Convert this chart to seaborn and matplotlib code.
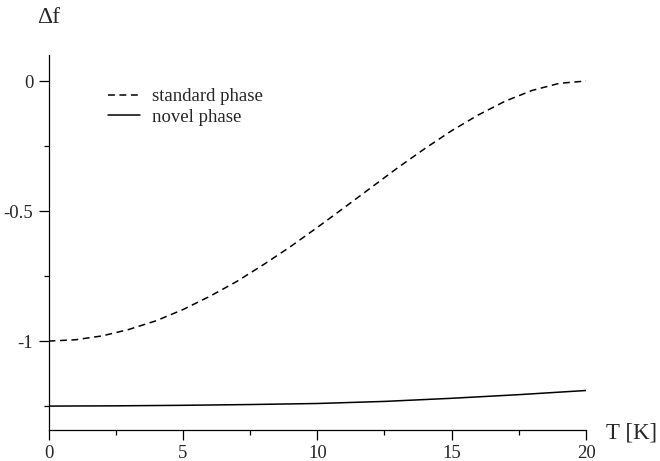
import matplotlib
matplotlib.use("Agg")
import matplotlib.pyplot as plt
import numpy as np
import pandas as pd
import seaborn as sns
from matplotlib.ticker import MultipleLocator

# ---------------------------------------------------------
# Data
# ---------------------------------------------------------
T_standard = [0, 1, 2, 3, 4, 5, 6, 7, 8, 9, 10, 11, 12, 13, 14, 15, 16, 17, 18, 19, 20]
df_standard = [-1.000, -0.995, -0.980, -0.955, -0.922, -0.879, -0.828, -0.771,
               -0.706, -0.637, -0.563, -0.487, -0.410, -0.333, -0.260, -0.191,
               -0.130, -0.077, -0.036, -0.009, 0.000]

T_novel = [0, 2.5, 5, 7.5, 10, 12.5, 15, 17.5, 20]
df_novel = [-1.250, -1.249, -1.247, -1.244, -1.240, -1.232, -1.220, -1.206, -1.190]

labels = ["standard phase", "novel phase"]
x_ticks = [0, 5, 10, 15, 20]
y_ticks = [0, -0.5, -1]
y_ticklabels = ["0", "-0.5", "-1"]

data = pd.concat([
    pd.DataFrame({"T": T_standard, "df": df_standard, "phase": labels[0]}),
    pd.DataFrame({"T": T_novel, "df": df_novel, "phase": labels[1]}),
])

# ---------------------------------------------------------
# Style
# ---------------------------------------------------------
sns.set_style("ticks")
plt.rcParams["font.family"] = ["Liberation Serif", "DejaVu Serif"]

fig = plt.figure(figsize=(6.6, 4.61), dpi=100)
ax = fig.add_axes([0.0735, 0.0672, 0.8145, 0.8135])

ax = sns.lineplot(
    data=data, x="T", y="df", hue="phase", style="phase",
    palette={labels[0]: "black", labels[1]: "black"},
    dashes={labels[0]: (4.5, 3), labels[1]: ""},
    linewidth=1.1, ax=ax, sort=False,
)

ax.set_xlim(0, 20)
ax.set_ylim(-1.342, 0.1)
ax.set_xlabel("")
ax.set_ylabel("")

ax.set_xticks(x_ticks)
ax.set_xticklabels([str(t) for t in x_ticks])
ax.xaxis.set_minor_locator(MultipleLocator(2.5))
ax.set_yticks(y_ticks)
ax.set_yticklabels(y_ticklabels)
ax.yaxis.set_minor_locator(MultipleLocator(0.25))

ax.tick_params(which="major", direction="out", length=7, width=0.9,
               labelsize=13.5, color="black", pad=4)
ax.tick_params(which="minor", direction="out", length=3.5, width=0.9, color="black")

for side in ["top", "right"]:
    ax.spines[side].set_visible(False)
for side in ["left", "bottom"]:
    ax.spines[side].set_linewidth(0.9)
    ax.spines[side].set_color("black")

# Axis titles placed like the original
fig.text(0.074, 0.962, "\u0394f", fontsize=17, ha="center", va="center")
fig.text(0.918, 0.061, "T [K]", fontsize=16.5, ha="left", va="center")

leg = ax.legend(
    loc="upper left", bbox_to_anchor=(0.11, 0.912), frameon=False,
    fontsize=13.5, handlelength=1.7, handletextpad=0.65, labelspacing=0.2,
    borderpad=0, borderaxespad=0,
)
for line in leg.get_lines():
    line.set_linewidth(1.1)

fig.savefig("out.png", dpi=100)
